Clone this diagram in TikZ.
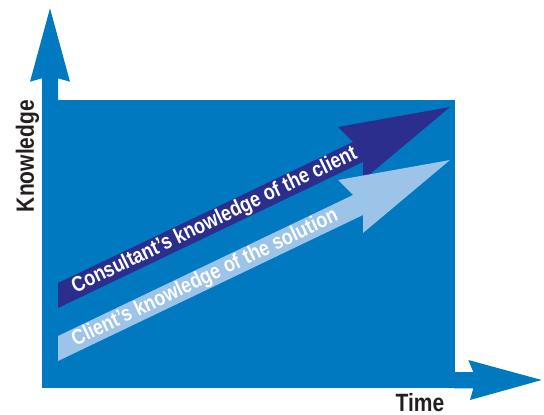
\documentclass[tikz,border=0pt]{standalone}
\usepackage{fontspec}
\setmainfont{Liberation Sans}[FakeStretch=0.84]
\definecolor{bgblue}{HTML}{0079C1}
\definecolor{navy}{HTML}{2B2E8C}
\definecolor{pale}{HTML}{9CC3E8}
\definecolor{ink}{HTML}{231F20}
\tikzset{
  bandtext/.style={text=white,font=\bfseries\fontsize{21.5}{21.5}\selectfont,inner sep=0pt,anchor=west,rotate=25.57},
  axislabel/.style={text=ink,font=\bfseries\fontsize{25}{25}\selectfont,inner sep=0pt}
}
\begin{document}
\begin{tikzpicture}[x=1pt,y=-1pt]
\useasboundingbox (0,0) rectangle (544,415);
% background panel
\fill[bgblue] (42,100) rectangle (455,388);
% vertical axis arrow
\fill[bgblue] (42,101) -- (42,78.3) -- (30,81.7) -- (50,8.3) -- (70,81.7) -- (58,78.3) -- (58,101) -- cycle;
% horizontal axis arrow
\fill[bgblue] (454,372) -- (473.3,372) -- (468.3,360) -- (541.7,380) -- (470,400) -- (473.3,388.3) -- (454,388.3) -- cycle;
% dark arrow
\fill[navy] (58,283) -- (353,142) -- (338,127) -- (450,107) -- (363,180) -- (363,162) -- (58,308) -- cycle;
% light arrow
\fill[pale] (58,336) -- (353,195) -- (338,180) -- (450,160) -- (363,233) -- (363,215) -- (58,361) -- cycle;
% texts
\node[bandtext] (t1) at (73,288.5) {Consultant’s knowledge of the client};
\node[bandtext] (t2) at (73,341.5) {Client’s knowledge of the solution};
\node[axislabel,anchor=base] (time) at (420,411) {Time};
\node[axislabel,rotate=90] (know) at (27.5,156) {Knowledge};
\end{tikzpicture}
\end{document}
